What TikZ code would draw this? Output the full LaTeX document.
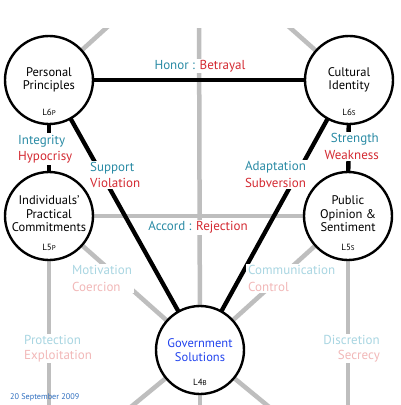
\documentclass[tikz,border=0pt]{standalone}
\usepackage{fontspec}
\setmainfont{PT Sans}
\definecolor{tl}{HTML}{2A8BA5}
\definecolor{rd}{HTML}{D42A32}
\definecolor{ftl}{HTML}{A9D6E2}
\definecolor{frd}{HTML}{F2B8B8}
\definecolor{gv}{HTML}{2244EE}
\definecolor{dt}{HTML}{2F6FC0}
\definecolor{lg}{HTML}{BEBEBE}
\begin{document}
\begin{tikzpicture}[x=1pt,y=-1pt,
  graylink/.style={line width=4.5pt, draw=lg},
  blacklink/.style={line width=4.3pt, draw=black},
  circ/.style={circle, draw=black, line width=2.4pt, fill=white, minimum size=88pt, inner sep=0pt},
  ttl/.style={font=\fontsize{12.5}{13.5}\selectfont, align=center, inner sep=0pt},
  lvl/.style={font=\fontsize{9}{9}\selectfont, inner sep=0pt},
  lab/.style={fill=white, inner xsep=2pt, inner ysep=1.5pt, font=\fontsize{13}{16.5}\selectfont}]
\useasboundingbox (0,0) rectangle (400,405);
\fill[white] (0,0) rectangle (400,405);
% centres
\coordinate (Pc) at (49,80);
\coordinate (Cc) at (349,80);
\coordinate (Ic) at (49,216);
\coordinate (Oc) at (348,216);
\coordinate (Gc) at (200,350);
% free ends
\coordinate (tl) at (126,10);
\coordinate (tr) at (270,10);
\coordinate (tm) at (199,10);
\coordinate (bi) at (49,420);
\coordinate (bo) at (348,420);
\coordinate (bl) at (115,420);
\coordinate (bm) at (200,420);
\coordinate (br) at (285,420);
\begin{scope}
\clip (0,28) rectangle (400,405);
\draw[graylink] (Pc) -- (tl);
\draw[graylink] (Cc) -- (tr);
\draw[graylink] (tm) -- (Gc);
\draw[graylink] (Ic) -- (Oc);
\draw[graylink] (Ic) -- (bi);
\draw[graylink] (Oc) -- (bo);
\draw[graylink] (Ic) -- (Gc);
\draw[graylink] (Oc) -- (Gc);
\draw[graylink] (Gc) -- (bl);
\draw[graylink] (Gc) -- (bm);
\draw[graylink] (Gc) -- (br);
\end{scope}
\draw[blacklink] (Pc) -- (Cc);
\draw[blacklink] (Pc) -- (Ic);
\draw[blacklink] (Cc) -- (Oc);
\draw[blacklink] (Pc) -- (Gc);
\draw[blacklink] (Cc) -- (Gc);
% labels
\node[lab] (honor) at (200,66) {\textcolor{tl}{Honor :} \textcolor{rd}{Betrayal}};
\node[lab] (accord) at (198,227) {\textcolor{tl}{Accord :} \textcolor{rd}{Rejection}};
\node[lab, anchor=west, align=left] (integ) at (16,149) {\textcolor{tl}{Integrity}\\\textcolor{rd}{Hypocrisy}};
\node[lab, anchor=west, align=left] (supp) at (88,175) {\textcolor{tl}{Support}\\\textcolor{rd}{Violation}};
\node[lab, anchor=east, align=right] (stren) at (381,146.5) {\textcolor{tl}{Strength}\\\textcolor{rd}{Weakness}};
\node[lab, align=center] (adapt) at (275.5,174.5) {\textcolor{tl}{Adaptation}\\\textcolor{rd}{Subversion}};
\node[lab, anchor=west, align=left] (motiv) at (70,278.5) {\textcolor{ftl}{Motivation}\\\textcolor{frd}{Coercion}};
\node[lab, anchor=west, align=left] (comm) at (246,278.5) {\textcolor{ftl}{Communication}\\\textcolor{frd}{Control}};
\node[lab, anchor=west, align=left] (prot) at (22,348.5) {\textcolor{ftl}{Protection}\\[-1.5pt]\textcolor{frd}{Exploitation}};
\node[lab, anchor=east, align=right] (discr) at (382,348.5) {\textcolor{ftl}{Discretion}\\[-1.5pt]\textcolor{frd}{Secrecy}};
% circles
\node[circ] (P) at (Pc) {};
\node[circ] (C) at (Cc) {};
\node[circ] (I) at (Ic) {};
\node[circ] (O) at (Oc) {};
\node[circ] (G) at (Gc) {};
\node[ttl] (Pt) at (49,80) {Personal\\Principles};
\node[ttl] (Ct) at (349,80) {Cultural\\Identity};
\node[ttl] (It) at (49,214) {Individuals’\\Practical\\Commitments};
\node[ttl] (Ot) at (348,214) {Public\\Opinion \&\\Sentiment};
\node[ttl, text=gv] (Gt) at (200,350) {Government\\Solutions};
\node[lvl] (Pl) at (49,112) {L6{\fontsize{7}{7}\selectfont P}};
\node[lvl] (Cl) at (349,112) {L6{\fontsize{7}{7}\selectfont S}};
\node[lvl] (Il) at (49,247) {L5{\fontsize{7}{7}\selectfont P}};
\node[lvl] (Ol) at (348,247) {L5{\fontsize{7}{7}\selectfont S}};
\node[lvl] (Gl) at (200,382) {L4{\fontsize{7}{7}\selectfont B}};
\node[anchor=west, inner sep=0pt, text=dt, font=\fontsize{8.2}{9}\selectfont] (date) at (10,397) {20 September 2009};
\end{tikzpicture}
\end{document}
